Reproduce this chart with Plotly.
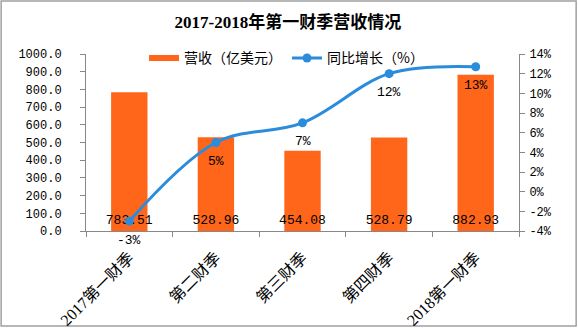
import plotly.graph_objects as go

categories = ["2017第一财季", "第二财季", "第三财季", "第四财季", "2018第一财季"]
revenue = [783.51, 528.96, 454.08, 528.79, 882.93]
growth = [-3.0, 5.0, 7.0, 12.0, 12.7]
growth_labels = ["-3%", "5%", "7%", "12%", "13%"]
left_ticks = [0, 100, 200, 300, 400, 500, 600, 700, 800, 900, 1000]
right_ticks = [-4, -2, 0, 2, 4, 6, 8, 10, 12, 14]

ORANGE = "#FF661A"
BLUE = "#2B8CDC"
AXIS = "#888888"
MONO = "Liberation Mono, Noto Sans CJK SC, monospace"
SERIF = "Liberation Serif, Noto Sans CJK SC, serif"

fig = go.Figure()
fig.add_trace(go.Bar(
    x=categories, y=revenue, name="营收（亿美元）",
    marker=dict(color=ORANGE, line=dict(width=0)),
    width=0.42,
    text=[f"{v:.2f}" for v in revenue],
    textposition="inside", insidetextanchor="start", constraintext="none",
    textangle=0,
    textfont=dict(family=MONO, size=13, color="#000000"),
    cliponaxis=False, showlegend=False, legendgroup="rev",
))
# legend swatch for the bars (flat orange bar as in the reference legend)
fig.add_trace(go.Scatter(
    x=[None], y=[None], name="营收（亿美元）", mode="lines",
    line=dict(color=ORANGE, width=6), legendgroup="rev",
))
fig.add_trace(go.Scatter(
    x=categories, y=growth, name="同比增长（%）", yaxis="y2",
    mode="lines+markers",
    line=dict(color=BLUE, width=3, shape="spline", smoothing=1.0),
    marker=dict(color=BLUE, size=9),
    cliponaxis=False,
))

annotations = []
for c, g, t in zip(categories, growth, growth_labels):
    annotations.append(dict(x=c, y=g, xref="x", yref="y2", text=t, showarrow=False,
                            yshift=-19, font=dict(family=MONO, size=13, color="#000000")))

fig.update_layout(
    width=578, height=328,
    margin=dict(l=86, r=59, t=54, b=97, autoexpand=False),
    paper_bgcolor="white", plot_bgcolor="white",
    title=dict(text="<b>2017-2018年第一财季营收情况</b>", x=0.498, xanchor="center",
               y=0.933, yanchor="middle",
               font=dict(family=SERIF, size=17, color="#000000")),
    showlegend=True,
    legend=dict(orientation="h", x=0.134, xanchor="left", y=0.975, yanchor="middle",
                font=dict(family="Noto Sans CJK SC", size=14, color="#000000"),
                bgcolor="rgba(0,0,0,0)", itemwidth=30, tracegroupgap=0),
    annotations=annotations,
    xaxis=dict(showline=True, linecolor=AXIS, linewidth=1, ticks="outside",
               tickcolor=AXIS, ticklen=5, tickson="boundaries", automargin=False,
               tickangle=-45, showgrid=False, ticklabelstandoff=10,
               tickfont=dict(family=SERIF, size=16, color="#000000")),
    yaxis=dict(range=[0, 1000], tickvals=left_ticks,
               ticktext=[f"{v:.1f}" for v in left_ticks], automargin=False,
               showline=True, linecolor=AXIS, linewidth=1, ticks="outside",
               tickcolor=AXIS, ticklen=5, showgrid=False, zeroline=False,
               ticklabelstandoff=16,
               tickfont=dict(family=MONO, size=12, color="#000000")),
    yaxis2=dict(range=[-4, 14], tickvals=right_ticks,
                ticktext=[f"{v}%" for v in right_ticks], automargin=False,
                overlaying="y", side="right",
                showline=True, linecolor=AXIS, linewidth=1, ticks="outside",
                tickcolor=AXIS, ticklen=5, showgrid=False, zeroline=False,
                ticklabelstandoff=2,
                tickfont=dict(family=MONO, size=12, color="#000000")),
    shapes=[dict(type="rect", xref="paper", yref="paper",
                 x0=-0.196, x1=1.132, y0=-0.537, y1=1.299,
                 line=dict(color="#A0A0A0", width=1.5), layer="below")],
)

fig.write_html("out.html")
